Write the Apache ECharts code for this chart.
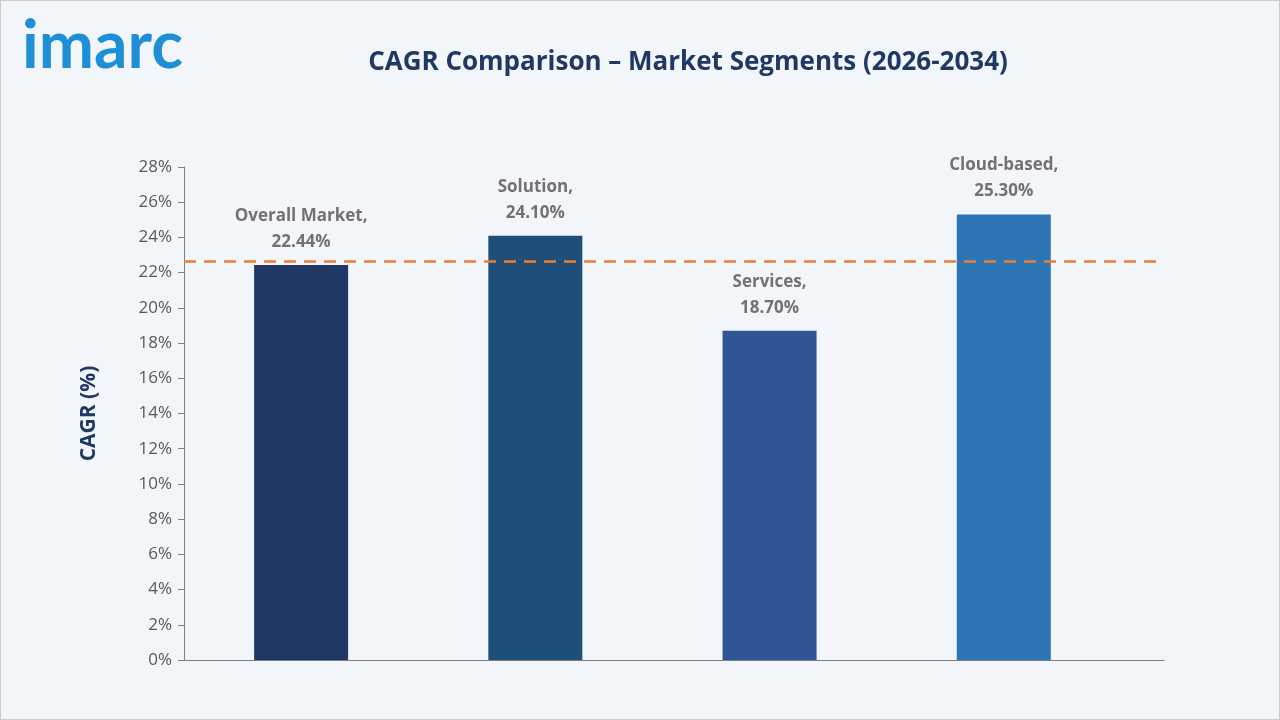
<!DOCTYPE html>
<html><head><meta charset="utf-8">
<script src="https://cdn.jsdelivr.net/npm/echarts@6/dist/echarts.min.js"></script>
<style>html,body{margin:0;padding:0;background:#f2f5fa}#c{width:1280px;height:720px;box-sizing:border-box;border:1px solid #c9ccd1}</style>
</head><body><div id="c"></div>
<script>
const categories = ['Overall Market', 'Solution', 'Services', 'Cloud-based'];
const values = [22.44, 24.10, 18.70, 25.30];
const colors = ['#1f3864', '#1f4e79', '#2f5597', '#2e75b6'];
const chart = echarts.init(document.getElementById('c'));
chart.setOption({
  backgroundColor: '#f2f5fa',
  title: [{
    text: 'CAGR Comparison – Market Segments (2026-2034)', left: 682, top: 44, textAlign: 'center',
    textStyle: {color: '#1f3864', fontSize: 26, fontWeight: 'bold', fontFamily: 'Open Sans'}
  }, {
    text: 'imarc', left: 16, top: 8,
    textStyle: {color: '#1e8fd5', fontSize: 66, fontWeight: 'bold', fontFamily: 'Lato'}
  }],
  grid: {left: 183, right: 115, top: 166, bottom: 59},
  xAxis: {
    type: 'value', min: -0.5, max: 3.684,
    axisLine: {show: true, onZero: false, lineStyle: {color: '#7f7f7f'}}, axisTick: {show: false}, axisLabel: {show: false},
    splitLine: {show: false}
  },
  yAxis: {
    type: 'value', min: 0, max: 28, interval: 2,
    name: 'CAGR (%)', nameLocation: 'middle', nameGap: 84,
    nameTextStyle: {color: '#1f3864', fontSize: 21, fontWeight: 'bold', fontFamily: 'Open Sans'},
    axisLine: {show: true, onZero: false, lineStyle: {color: '#7f7f7f'}},
    axisTick: {show: true, length: 6, lineStyle: {color: '#7f7f7f'}},
    splitLine: {show: false},
    axisLabel: {formatter: '{value}%', color: '#595959', fontSize: 17, fontFamily: 'Open Sans', margin: 12}
  },
  series: [{
    type: 'bar', barWidth: 94,
    data: values.map((v, i) => ({value: [i, v], name: categories[i], itemStyle: {color: colors[i]}})),
    label: {
      show: true, position: 'top', distance: 10, color: '#767171', fontSize: 17, fontWeight: 'bold',
      fontFamily: 'Open Sans', lineHeight: 26,
      formatter: p => p.name + ',\n' + p.value[1].toFixed(2) + '%'
    },
    markLine: {
      symbol: 'none', silent: true, label: {show: false},
      lineStyle: {color: '#ed7d31', type: [12, 8], width: 2.5},
      data: [{type: 'average', valueDim: 'y'}]
    }
  }]
});
</script></body></html>
